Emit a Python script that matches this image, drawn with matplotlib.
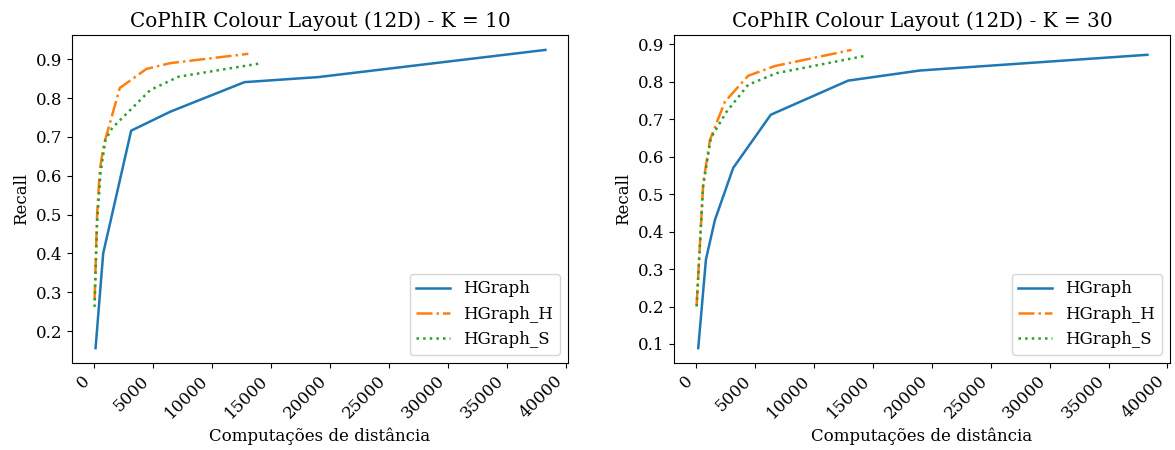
import numpy as np
import matplotlib
matplotlib.use("Agg")
from matplotlib import pyplot as plt

plt.rcParams['font.family'] = ['DejaVu Serif']
plt.rcParams['font.size'] = 12

# K = 10
k10_hgraph_x = [170, 815, 3180, 6500, 12770, 19000, 38230]
k10_hgraph_y = [0.156, 0.40, 0.716, 0.765, 0.841, 0.854, 0.924]
k10_hgraph_h_x = [85, 300, 530, 870, 2220, 4470, 6500, 13100]
k10_hgraph_h_y = [0.279, 0.50, 0.616, 0.68, 0.826, 0.875, 0.89, 0.914]
k10_hgraph_s_x = [85, 300, 600, 1010, 1580, 4810, 7200, 14240]
k10_hgraph_s_y = [0.262, 0.48, 0.61, 0.693, 0.723, 0.821, 0.855, 0.89]

# K = 30
k30_hgraph_x = [195, 850, 1610, 3160, 6350, 12910, 19000, 38300]
k30_hgraph_y = [0.089, 0.326, 0.431, 0.570, 0.712, 0.803, 0.83, 0.872]
k30_hgraph_h_x = [55, 620, 1190, 2460, 4430, 6700, 13200]
k30_hgraph_h_y = [0.202, 0.53, 0.645, 0.747, 0.816, 0.842, 0.885]
k30_hgraph_s_x = [60, 600, 1270, 2600, 4430, 6840, 14320]
k30_hgraph_s_y = [0.2, 0.52, 0.65, 0.72, 0.792, 0.823, 0.869]

titles = ["CoPhIR Colour Layout (12D) - K = 10", "CoPhIR Colour Layout (12D) - K = 30"]
series = [
    [(k10_hgraph_x, k10_hgraph_y), (k10_hgraph_h_x, k10_hgraph_h_y), (k10_hgraph_s_x, k10_hgraph_s_y)],
    [(k30_hgraph_x, k30_hgraph_y), (k30_hgraph_h_x, k30_hgraph_h_y), (k30_hgraph_s_x, k30_hgraph_s_y)],
]
labels = ["HGraph", "HGraph_H", "HGraph_S"]
styles = ["-", "-.", ":"]

fig, axes = plt.subplots(1, 2, figsize=(11.75, 4.5), dpi=100)
fig.subplots_adjust(left=0.0613, right=0.9957, top=0.9222, bottom=0.1933, wspace=0.214)

for ax, title, data in zip(axes, titles, series):
    for (x, y), label, ls in zip(data, labels, styles):
        ax.plot(x, y, ls, label=label, lw=1.8)
    ax.set_title(title)
    ax.set_xlabel("Computações de distância")
    ax.set_ylabel("Recall")
    ax.set_xticks(np.arange(0, 40001, 5000))
    for lbl in ax.get_xticklabels():
        lbl.set_rotation(45)
        lbl.set_ha("right")
    ax.legend(loc="lower right")

fig.savefig("out.png")
